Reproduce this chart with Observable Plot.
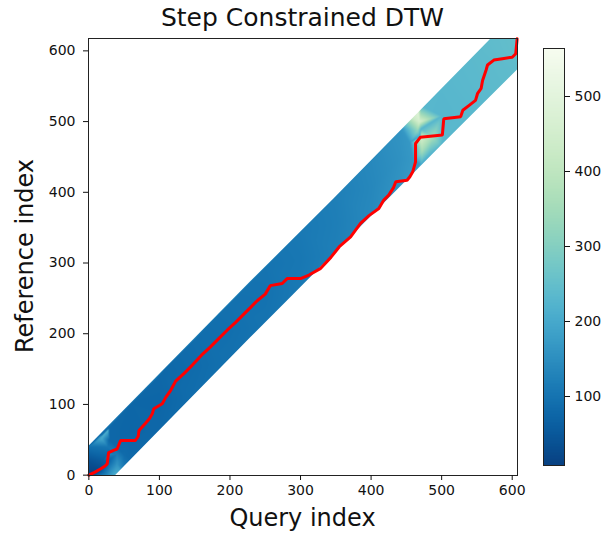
<!DOCTYPE html>
<html>
<head>
<meta charset="utf-8">
<script src="https://cdn.jsdelivr.net/npm/d3@7"></script>
<script src="https://cdn.jsdelivr.net/npm/@observablehq/plot@0.6"></script>
<style>
  html, body { margin: 0; padding: 0; background: white; }
  #wrap { position: relative; width: 606px; height: 537px; font-family: "DejaVu Sans", sans-serif; color: #111; }
  .abs { position: absolute; }
  .txt { z-index: 5; line-height: 1; }
  .title { left: 88px; width: 429px; top: 5px; text-align: center; font-size: 25px; }
  .xlabel { left: 88px; width: 429px; top: 506px; text-align: center; font-size: 24px; }
  .ylabel { left: 25px; top: 256px; font-size: 24px; transform: translate(-50%, -50%) rotate(-90deg); white-space: nowrap; }
  #wrap svg text { font-size: 14px; }
</style>
</head>
<body>
<div id="wrap">
  <div class="abs" id="cbar" style="left:520px;top:0;"></div>
  <div class="abs" id="main" style="left:0;top:0;"></div>
  <div class="abs txt title">Step Constrained DTW</div>
  <div class="abs txt xlabel">Query index</div>
  <div class="abs txt ylabel">Reference index</div>
</div>
<script>
// ---- Data ----
const queryLength = 608;
const referenceLength = 618;
const xTicks = [0, 100, 200, 300, 400, 500, 600];
const yTicks = [0, 100, 200, 300, 400, 500, 600];
const colorTicks = [100, 200, 300, 400, 500];
const colorDomain = [8, 564];

// Accumulated-cost samples [query, reference, cost] estimated from the colours
const costSamples = [
  [0, 0, 10], [12, 6, 20], [0, 20, 40], [0, 40, 95], [20, 20, 55], [18, 52, 200],
  [27, 64, 215], [27, 40, 105], [27, 20, 65], [29, 66, 78], [29, 50, 78], [29, 33, 78],
  [29, 30, 130], [40, 30, 115], [36, -1, 210], [45, 5, 190], [40, 15, 160], [50, 10, 115],
  [50, 29, 85],
  [60, 101, 76], [60, 61, 74], [60, 21, 82],
  [100, 142, 78], [100, 102, 75], [100, 62, 78],
  [150, 192, 88], [150, 152, 85], [150, 112, 88],
  [200, 243, 95], [200, 203, 92], [200, 163, 95],
  [250, 294, 100], [250, 254, 97], [250, 214, 100],
  [300, 345, 110], [300, 305, 107], [300, 265, 110],
  [350, 396, 122], [350, 356, 120], [350, 316, 122],
  [400, 447, 140], [400, 407, 137], [400, 367, 140],
  [440, 487, 160], [440, 447, 155], [440, 407, 160],
  [455, 470, 168], [460, 445, 168], [460, 425, 172],
  [466, 515, 490], [469, 500, 460], [458, 505, 420], [452, 498, 300], [466, 488, 330], [469, 478, 190],
  [444, 490, 170], [469, 440, 175],
  [471, 477, 450], [487, 477, 350], [502, 479, 235], [472, 458, 350], [482, 455, 240],
  [471, 522, 232], [471, 490, 228], [471, 440, 212],
  [500, 547, 230], [500, 508, 228], [500, 465, 228],
  [550, 598, 238], [550, 559, 236], [550, 520, 233],
  [570, 618, 243], [590, 618, 246],
  [607.5, 618, 250], [607.5, 600, 248], [607.5, 570, 243]
];

// Band limits (outside is blank)
const upperEdge = [[-0.5, 40], [229, 273], [347, 390], [570.6, 617.5]];
const lowerEdge = [[38, -0.5], [229, 194], [286, 251], [505, 471], [607.5, 573]];

// Optimal warping path [query, reference]
const warpPath = [
  [0, 0], [8, 4], [17, 9], [23, 13], [26, 16], [28, 32], [35, 35], [40, 37], [45, 49],
  [66, 49], [70, 55], [71, 63], [80, 73], [86, 80], [90, 87], [92, 94], [104, 101],
  [109, 110], [116, 120], [123, 133], [135, 144], [147, 156], [160, 170], [172, 181],
  [184, 193], [196, 205], [208, 216], [220, 228], [230, 238], [239, 247], [250, 256],
  [257, 268], [274, 271], [281, 278], [300, 278], [312, 283], [328, 292], [343, 308],
  [355, 323], [371, 337], [385, 356], [397, 367], [411, 377], [418, 389], [425, 396],
  [432, 407], [435, 415], [451, 417], [455, 422], [459, 429], [463, 443], [463, 469],
  [470, 478], [501, 481], [503, 504], [527, 507], [530, 516], [539, 523], [548, 530],
  [551, 540], [556, 547], [558, 558], [563, 573], [565, 580], [574, 587], [586, 589],
  [600, 591], [605, 596], [607, 617]
];

// ---- Chart ----
const colorOpts = { type: "linear", scheme: "GnBu", reverse: true, domain: colorDomain };
const font = { fontFamily: "DejaVu Sans, sans-serif", fontSize: "14px", color: "#111", overflow: "visible" };

const main = Plot.plot({
  width: 530, height: 537,
  marginLeft: 88, marginRight: 13, marginTop: 38, marginBottom: 62,
  style: { ...font, background: "transparent" },
  x: { domain: [-0.5, queryLength - 0.5], label: null },
  y: { domain: [-0.5, referenceLength - 0.5], label: null },
  color: colorOpts,
  marks: [
    Plot.raster(costSamples, {
      x: d => d[0], y: d => d[1], fill: d => d[2],
      interpolate: "barycentric", pixelSize: 1
    }),
    Plot.areaY(upperEdge, { x: d => d[0], y1: d => d[1], y2: referenceLength - 0.5, fill: "white" }),
    Plot.areaY(lowerEdge, { x: d => d[0], y1: -0.5, y2: d => d[1], fill: "white" }),
    Plot.line(warpPath, { x: d => d[0], y: d => d[1], stroke: "#ff0000", strokeWidth: 3, strokeLinejoin: "miter" }),
    Plot.frame({ stroke: "#222", strokeWidth: 1 }),
    Plot.axisX({ ticks: xTicks, tickSize: 5, tickPadding: 5, fontSize: 14, label: null }),
    Plot.axisY({ ticks: yTicks, tickSize: 5, tickPadding: 8, fontSize: 14, label: null })
  ]
});
document.getElementById("main").appendChild(main);

const steps = d3.range(colorDomain[0], colorDomain[1], 2);
const cbar = Plot.plot({
  width: 86, height: 537,
  marginLeft: 23, marginRight: 42, marginTop: 48, marginBottom: 72,
  style: { ...font, background: "white" },
  x: { domain: [0, 1], axis: null },
  y: { domain: colorDomain, label: null },
  color: colorOpts,
  marks: [
    Plot.rect(steps, { x1: 0, x2: 1, y1: d => d, y2: d => Math.min(d + 3, colorDomain[1]), fill: d => d + 1, shapeRendering: "crispEdges" }),
    Plot.frame({ stroke: "#222", strokeWidth: 1 }),
    Plot.axisY({ anchor: "right", ticks: colorTicks, tickSize: 5, tickPadding: 5, fontSize: 14, label: null })
  ]
});
document.getElementById("cbar").appendChild(cbar);
</script>
</body>
</html>
